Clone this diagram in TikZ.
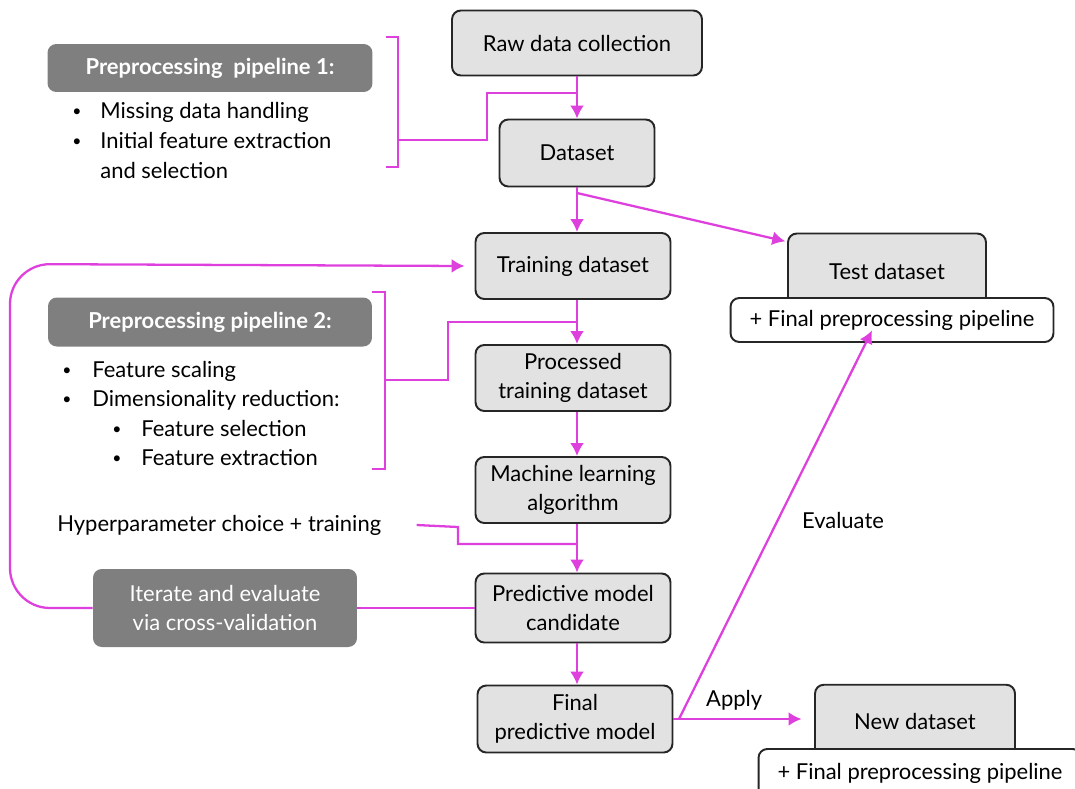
\documentclass[tikz,border=0pt]{standalone}
\usepackage{fontspec}
\setmainfont{Lato}
\usetikzlibrary{arrows.meta,positioning}
\usepackage{xcolor}

\definecolor{flowmag}{RGB}{222,64,222}
\definecolor{stagegray}{RGB}{226,226,226}
\definecolor{pipegray}{RGB}{127,127,127}

\begin{document}
\begin{tikzpicture}[x=0.02cm,y=-0.02cm]
\tikzstyle{stage} = [
	shape=rectangle,
	rounded corners=5pt,
	draw=black!85, %dark border
	fill=stagegray,
	line width=1.1pt,
	minimum width=3.9cm,
	minimum height=1.32cm,
	align=center,
	font=\fontsize{12.5}{16.4}\selectfont
];
\tikzstyle{extra} = [stage, fill=white, minimum width=6.46cm, minimum height=0.88cm]
\tikzstyle{pipebox} = [
	shape=rectangle,
	rounded corners=5pt,
	fill=pipegray,
	text=white,
	align=center,
	font=\fontsize{12.5}{16.4}\selectfont
];
\tikzstyle{item} = [anchor=base west, inner sep=0pt, font=\fontsize{12.5}{15}\selectfont]
\tikzstyle{dot} = [anchor=base west, inner sep=0pt, font=\fontsize{9}{9}\selectfont, yshift=1pt]
\tikzstyle{magline} = [line width=1.3pt, color=flowmag]
\tikzstyle{flow} = [magline, -{Latex[length=2.6mm,width=2.8mm]}]

\useasboundingbox (0,0) rectangle (1075,788);

%main column
\node[stage, minimum width=5cm, minimum height=1.3cm] (raw) at (577,43) {Raw data collection};
\node[stage, minimum width=3.1cm, minimum height=1.34cm] (data) at (577,153) {Dataset};
\node[stage] (train) at (573,266) {Training dataset};
\node[stage] (proc) at (573,378) {Processed\\training dataset};
\node[stage] (mla) at (573,490) {Machine learning\\algorithm};
\node[stage, minimum height=1.38cm] (cand) at (573,608) {Predictive model\\candidate};
\node[stage, minimum height=1.34cm] (final) at (575,719) {Final\\predictive model};

%test and new data
\node[stage, minimum width=3.96cm, minimum height=1.5cm] (test) at (887,271) {Test dataset};
\node[extra] (testpipe) at (892,320) {+ Final preprocessing pipeline};
\node[stage, minimum width=4cm, minimum height=1.45cm] (newdata) at (915,721) {New dataset};
\node[extra, minimum height=1cm] (newpipe) at (920,774) {\raisebox{3pt}{+ Final preprocessing pipeline}};

%preprocessing pipeline 1
\node[pipebox, minimum width=6.5cm, minimum height=0.96cm, font=\fontsize{12.5}{15}\selectfont\bfseries] (pp1) at (210,68) {Preprocessing\ \ pipeline 1:};
\node[dot] (pp1a) at (72,118) {\textbullet};
\node[item] (pp1b) at (100,118) {Missing data handling};
\node[dot] (pp1c) at (72,148) {\textbullet};
\node[item] (pp1d) at (100,148) {Initial feature extraction};
\node[item] (pp1e) at (100,178) {and selection};

%preprocessing pipeline 2
\node[pipebox, minimum width=6.48cm, minimum height=0.98cm, font=\fontsize{12.5}{15}\selectfont\bfseries] (pp2) at (210,322) {Preprocessing pipeline 2:};
\node[dot] (pp2a) at (62,377) {\textbullet};
\node[item] (pp2b) at (92,377) {Feature scaling};
\node[dot] (pp2c) at (62,406) {\textbullet};
\node[item] (pp2d) at (92,406) {Dimensionality reduction:};
\node[dot] (pp2e) at (112,436) {\textbullet};
\node[item] (pp2f) at (141,436) {Feature selection};
\node[dot] (pp2g) at (112,465) {\textbullet};
\node[item] (pp2h) at (141,465) {Feature extraction};

\node[item, anchor=west] (hyper) at (57,525) {Hyperparameter choice + training};
\node[pipebox, minimum width=5.28cm, minimum height=1.56cm] (iter) at (225,608) {Iterate and evaluate\\via cross-validation};

\coordinate (split) at (577,193);
\coordinate (fork) at (679,719);

%arrows down the column
\draw[flow] (raw) -- (data);
\draw[magline] (data.south -| split) -- (split);
\draw[flow] (split) -- (train.north -| split);
\draw[flow] (split) -- ([xshift=-1pt,yshift=-5pt]test.north west);
\draw[flow] (train.south -| split) -- (proc.north -| split);
\draw[flow] (proc.south -| split) -- (mla.north -| split);
\draw[flow] (mla.south -| split) -- (cand.north -| split);
\draw[flow] (cand.south -| split) -- (final.north -| split);

%brackets
\draw[magline] (386,37) -- (398,37) -- (398,167) -- (386,167);
\draw[magline] (398,140) -- (487,140) -- (487,93) -- (split |- 0,93);
\draw[magline] (372,292) -- (385,292) -- (385,469) -- (372,469);
\draw[magline] (385,380) -- (448,380) -- (448,322) -- (split |- 0,322);
\draw[magline] ([xshift=20pt]hyper.east) -- (458,527) -- (458,544) -- (split |- 0,544);

%cross-validation loop
\draw[magline] (cand.west) -- (iter.east);
\draw[flow, rounded corners=0.8cm] (iter.west) -- (10,608) -- (10,264) -- ([xshift=-0.2cm]train.west);

%final model
\draw[magline] (final.east) -- (fork);
\draw[flow] (fork) -- node[above=1pt, text=black, font=\fontsize{12.5}{15}\selectfont, pos=0.45] {Apply} ([xshift=-0.25cm]fork -| newdata.west);
\draw[flow] (fork) -- ([yshift=0.25cm]testpipe.south -| 872,0);
\node[font=\fontsize{12.5}{15}\selectfont] (evallabel) at (843,520) {Evaluate};

\end{tikzpicture}
\end{document}
